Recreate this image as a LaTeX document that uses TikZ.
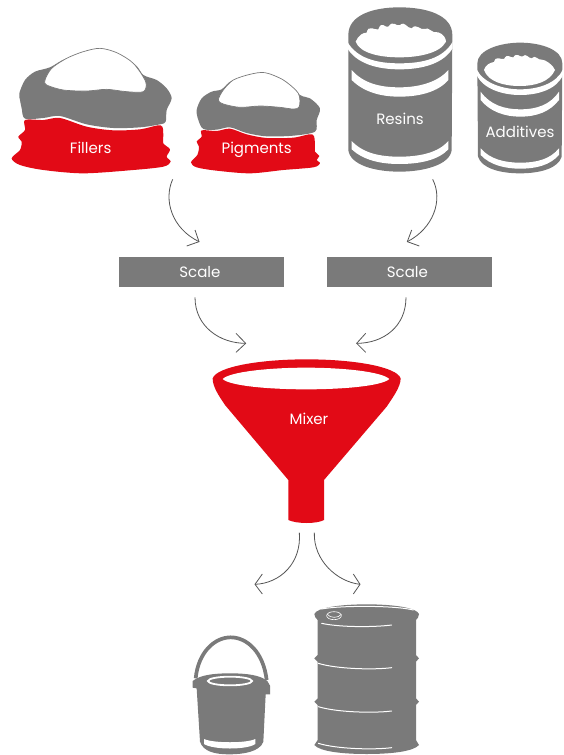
\documentclass[tikz,border=0pt]{standalone}
\usepackage{fontspec}
\setmainfont{Poppins}
\definecolor{ggrey}{HTML}{7A7A7A}
\definecolor{rred}{HTML}{E20A16}
\definecolor{arrowc}{HTML}{555555}
\tikzset{
  zoomA/.style={shift={(0pt,-30pt)},scale=1/3},
  zoomB/.style={shift={(340pt,0pt)},scale=1/3},
  zoomC/.style={shift={(100pt,-170pt)},scale=1/3},
  zoomD/.style={shift={(200pt,-350pt)},scale=1/3},
  zoomE/.style={shift={(180pt,-595pt)},scale=1/3},
  greyfill/.style={fill=ggrey,draw=none},
  redfill/.style={fill=rred,draw=none},
  whitefill/.style={fill=white,draw=none},
  snow/.style={fill=white,draw=ggrey,line width=.7pt},
  label/.style={text=white,font=\fontsize{15}{18}\selectfont,inner sep=0pt},
  scalebox/.style={fill=ggrey,text=white,font=\fontsize{15}{18}\selectfont,minimum width=164.7pt,minimum height=29.4pt,inner sep=0pt},
  flow/.style={draw=arrowc,line width=.8pt},
  thinwhite/.style={draw=white,line width=1pt,line cap=round},
}
\begin{document}
\begin{tikzpicture}[x=1pt,y=-1pt]
\fill[white] (0,0) rectangle (563,755);
\useasboundingbox (0,0) rectangle (563,755);

% Fillers / Pigments
\begin{scope}[zoomA]
\fill[redfill] plot[smooth cycle,tension=.5] coordinates {(75,270)(130,270)(180,264)(260,290)(340,301)(420,298)(482,286)(490,315)(490,340)(510,358)(500,380)(512,395)(490,410)(400,420)(250,430)(130,420)(60,405)(35,385)(60,360)(65,335)(55,320)(75,300)};
\fill[greyfill] plot[smooth cycle,tension=.5] coordinates {(58,190)(75,150)(105,125)(150,112)(200,85)(300,60)(400,100)(430,135)(470,150)(500,175)(515,205)(500,240)(497,275)(480,283)(420,292)(340,294)(260,283)(180,258)(130,264)(75,266)(65,235)(60,210)};
\draw[snow] plot[smooth cycle,tension=.5] coordinates {(135,150)(155,115)(200,85)(250,65)(300,55)(350,68)(400,100)(437,155)(430,185)(380,185)(320,178)(260,183)(190,180)(140,165)};
\fill[redfill] plot[smooth cycle,tension=.5] coordinates {(605,301)(650,303)(690,296)(740,313)(800,324)(880,323)(937,313)(945,345)(945,365)(958,378)(950,390)(960,400)(940,412)(850,420)(750,430)(650,422)(590,412)(573,397)(592,375)(597,350)(590,335)(605,320)};
\fill[greyfill] plot[smooth cycle,tension=.5] coordinates {(590,240)(605,205)(635,185)(665,178)(700,150)(795,132)(850,150)(900,195)(930,205)(960,235)(950,270)(945,305)(880,317)(800,319)(740,309)(690,292)(650,299)(610,297)(595,270)};
\draw[snow] plot[smooth cycle,tension=.5] coordinates {(655,210)(670,180)(700,150)(750,133)(795,128)(850,150)(895,190)(898,230)(880,237)(840,232)(780,228)(720,232)(670,222)};
\node[label] (fillers) at (272,355) {Fillers};
\node[label] (pigments) at (770,358) {Pigments};
\end{scope}

% Cans
\begin{scope}[zoomB]
\fill[greyfill] (25,105) .. controls (25,45) and (100,22) .. (178,22) .. controls (260,22) and (337,45) .. (337,105) -- (335,450) .. controls (330,495) and (250,515) .. (178,515) .. controls (105,515) and (30,495) .. (25,450) -- cycle;
\fill[whitefill] (22,125) .. controls (50,175) and (110,190) .. (178,190) .. controls (250,190) and (310,175) .. (338,125) -- (338,145) .. controls (310,190) and (250,208) .. (178,208) .. controls (110,208) and (50,190) .. (22,145) -- cycle;
\fill[whitefill] (35,210) .. controls (70,250) and (120,262) .. (178,262) .. controls (240,262) and (295,245) .. (325,210) -- (325,240) .. controls (295,275) and (240,290) .. (178,290) .. controls (120,290) and (70,275) .. (35,240) -- cycle;
\fill[whitefill] (35,423) .. controls (70,460) and (120,470) .. (178,470) .. controls (240,470) and (295,458) .. (325,423) -- (325,448) .. controls (295,480) and (240,492) .. (178,492) .. controls (120,492) and (70,480) .. (35,448) -- cycle;
\fill[whitefill] (47,125) .. controls (55,105) and (70,98) .. (80,98) .. controls (85,72) and (105,92) .. (115,88) .. controls (125,60) and (135,85) .. (145,80) .. controls (160,58) and (170,82) .. (180,75) .. controls (195,62) and (200,85) .. (215,85) .. controls (230,68) and (240,92) .. (255,87) .. controls (265,78) and (275,102) .. (295,97) .. controls (310,102) and (318,115) .. (318,125) .. controls (300,160) and (235,172) .. (178,172) .. controls (120,172) and (60,160) .. (47,125) -- cycle;
\node[label] (resins) at (180,357) {Resins};
\fill[greyfill] (412,190) .. controls (412,150) and (480,128) .. (540,128) .. controls (605,128) and (667,150) .. (667,190) -- (665,470) .. controls (655,505) and (600,520) .. (540,520) .. controls (480,520) and (425,505) .. (414,470) -- cycle;
\fill[whitefill] (410,208) .. controls (430,250) and (490,268) .. (540,268) .. controls (595,268) and (650,250) .. (669,208) -- (669,225) .. controls (650,268) and (595,285) .. (540,285) .. controls (490,285) and (430,268) .. (410,225) -- cycle;
\fill[whitefill] (422,275) .. controls (450,315) and (495,328) .. (540,328) .. controls (590,328) and (630,315) .. (657,275) -- (657,300) .. controls (630,335) and (590,350) .. (540,350) .. controls (495,350) and (450,335) .. (422,300) -- cycle;
\fill[whitefill] (422,445) .. controls (450,478) and (495,488) .. (540,488) .. controls (590,488) and (630,478) .. (657,445) -- (657,465) .. controls (630,495) and (590,506) .. (540,506) .. controls (495,506) and (450,495) .. (422,465) -- cycle;
\fill[whitefill] (432,210) .. controls (436,195) and (450,188) .. (462,186) .. controls (468,165) and (482,180) .. (492,177) .. controls (502,158) and (512,175) .. (520,172) .. controls (530,155) and (540,173) .. (548,169) .. controls (558,158) and (565,175) .. (575,175) .. controls (585,162) and (595,182) .. (605,179) .. controls (615,178) and (640,195) .. (645,210) .. controls (630,245) and (585,258) .. (540,258) .. controls (490,258) and (445,245) .. (432,210) -- cycle;
\node[label] (additives) at (540,395) {Additives};
\end{scope}

% Scale boxes and upper arrows
\node[scalebox] (scaleL) at (201.7,272) {Scale\kern 3.5pt};
\node[scalebox] (scaleR) at (409.7,272) {Scale\kern 4.5pt};
\begin{scope}[zoomC]
\coordinate (a1s) at (218,28); \coordinate (a1e) at (297,215);
\coordinate (a2s) at (998,28); \coordinate (a2e) at (922,215);
\coordinate (a3s) at (285,382); \coordinate (a3e) at (437,520);
\coordinate (a4s) at (918,382); \coordinate (a4e) at (770,520);
\draw[flow] (a1s) .. controls (190,90) and (215,175) .. (a1e);
\draw[flow] (285,180) -- (a1e) -- (260,228);
\draw[flow] (a2s) .. controls (1030,90) and (1000,175) .. (a2e);
\draw[flow] (935,180) -- (a2e) -- (958,228);
\draw[flow] (a3s) .. controls (285,470) and (360,520) .. (a3e);
\draw[flow] (408,490) -- (a3e) -- (408,547);
\draw[flow] (a4s) .. controls (918,470) and (850,520) .. (a4e);
\draw[flow] (797,490) -- (a4e) -- (797,547);
\end{scope}

% Funnel and lower arrows
\begin{scope}[zoomD]
\fill[redfill] (38,85) .. controls (50,50) and (180,28) .. (320,28) .. controls (460,28) and (590,50) .. (602,85) .. controls (602,110) and (580,140) .. (560,170) -- (372,390) -- (372,510) .. controls (350,522) and (290,522) .. (265,510) -- (265,390) -- (75,165) .. controls (55,135) and (38,110) .. (38,85) -- cycle;
\fill[whitefill] (68,87) .. controls (90,65) and (210,53) .. (318,53) .. controls (430,53) and (545,65) .. (568,87) .. controls (545,108) and (430,118) .. (318,118) .. controls (210,118) and (90,108) .. (68,87) -- cycle;
\node[label] (mixer) at (327,207) {Mixer};
\coordinate (a5s) at (298,548); \coordinate (a5e) at (165,703);
\coordinate (a6s) at (343,548); \coordinate (a6e) at (480,703);
\draw[flow] (a5s) .. controls (305,640) and (240,700) .. (a5e);
\draw[flow] (187,672) -- (a5e) -- (187,732);
\draw[flow] (a6s) .. controls (340,630) and (410,695) .. (a6e);
\draw[flow] (460,672) -- (a6e) -- (460,732);
\end{scope}

% Bucket and barrel
\begin{scope}[zoomE]
\draw[ggrey,line width=3.7pt] (47,250) .. controls (55,170) and (105,127) .. (152,127) .. controls (200,127) and (250,170) .. (260,255);
\fill[greyfill] (38,258) .. controls (60,240) and (100,235) .. (150,235) .. controls (200,235) and (240,240) .. (262,258) -- (270,272) -- (270,298) -- (257,298) -- (250,440) .. controls (240,470) and (190,478) .. (148,478) .. controls (105,478) and (70,470) .. (60,440) -- (50,280) -- (38,278) -- cycle;
\draw[white,line width=1.8pt] (150,258) ellipse [x radius=66,y radius=13];
\fill[whitefill] (72,432) .. controls (100,445) and (200,445) .. (226,432) -- (226,447) .. controls (200,465) and (100,465) .. (72,447) -- cycle;

\fill[greyfill] (403,57) .. controls (410,38) and (480,28) .. (560,28) .. controls (640,28) and (710,38) .. (717,57) .. controls (717,65) and (712,72) .. (708,75) -- (708,180) -- (717,190) -- (708,200) -- (708,310) -- (717,320) -- (708,330) -- (708,435) -- (717,450) .. controls (700,470) and (630,477) .. (560,477) .. controls (490,477) and (420,470) .. (403,450) -- (413,435) -- (413,330) -- (403,320) -- (413,310) -- (413,200) -- (403,190) -- (413,180) -- (413,75) .. controls (408,70) and (403,65) .. (403,57) -- cycle;
\draw[thinwhite] (425,42) .. controls (470,32) and (640,30) .. (700,45);
\draw[thinwhite] (425,85) .. controls (480,97) and (580,97) .. (635,90);
\draw[thinwhite] (415,205) .. controls (470,222) and (580,225) .. (635,218);
\draw[thinwhite] (415,335) .. controls (470,352) and (580,355) .. (635,348);
\draw[thinwhite] (415,445) .. controls (470,462) and (580,465) .. (635,458);
\draw[white,line width=.6pt] (462,62) ellipse [x radius=22,y radius=12];
\draw[white,line width=.6pt] (442,58) .. controls (450,70) and (475,70) .. (484,58);
\end{scope}
\end{tikzpicture}
\end{document}
